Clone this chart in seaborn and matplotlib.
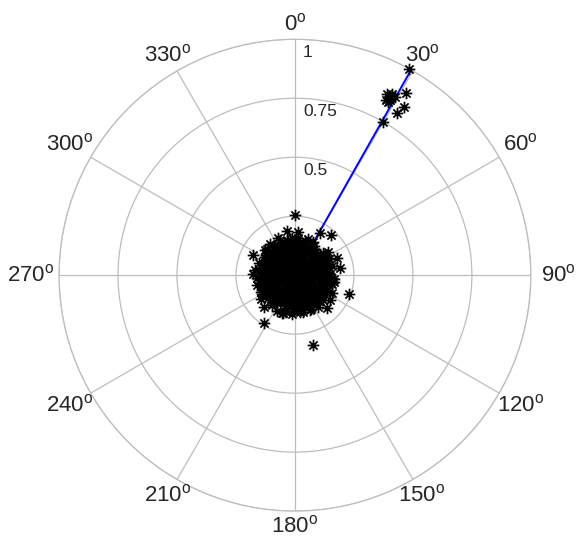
import numpy as np
import pandas as pd
import matplotlib
matplotlib.use("Agg")
import matplotlib.pyplot as plt
import seaborn as sns
from matplotlib.path import Path
from matplotlib.transforms import offset_copy

# ---------------- data (angles in degrees, radius 0..1) ----------------
core_theta = [5, 37, 71, 102, 139, 166, 198, 226, 259, 291, 318, 347, 14, 52, 88, 121, 153, 187,
              214, 243, 277, 305, 333, 22, 61, 95, 130, 171, 205, 236, 268, 299, 326, 355, 44, 79,
              112, 147, 182, 219, 251, 284, 312, 341, 9, 66, 117, 192, 248, 322]
core_r = [0.02, 0.04, 0.03, 0.05, 0.01, 0.06, 0.03, 0.05, 0.02, 0.04, 0.06, 0.03, 0.05, 0.02, 0.06,
          0.04, 0.03, 0.05, 0.02, 0.06, 0.04, 0.03, 0.05, 0.06, 0.01, 0.04, 0.05, 0.03, 0.06, 0.02,
          0.05, 0.04, 0.03, 0.06, 0.05, 0.02, 0.06, 0.04, 0.03, 0.05, 0.04, 0.06, 0.02, 0.05, 0.04,
          0.05, 0.03, 0.06, 0.04, 0.02]

mid_theta = [3, 11, 19, 28, 34, 43, 50, 58, 64, 73, 81, 86, 94, 100, 108, 115, 124, 131, 137, 145,
             152, 160, 168, 175, 181, 189, 196, 203, 211, 217, 224, 231, 239, 245, 253, 260, 266,
             274, 281, 288, 294, 301, 308, 315, 321, 329, 336, 343, 350, 357, 25, 68, 110, 158, 200,
             246, 292, 338, 16, 77, 141, 207, 263, 318, 48, 99, 172, 229, 284, 353]
mid_r = [0.08, 0.10, 0.07, 0.09, 0.11, 0.06, 0.10, 0.08, 0.07, 0.11, 0.09, 0.06, 0.10, 0.08, 0.11,
         0.07, 0.09, 0.10, 0.06, 0.08, 0.11, 0.07, 0.09, 0.10, 0.08, 0.06, 0.11, 0.09, 0.07, 0.10,
         0.08, 0.11, 0.06, 0.09, 0.10, 0.07, 0.08, 0.11, 0.09, 0.06, 0.10, 0.07, 0.08, 0.11, 0.09,
         0.10, 0.06, 0.08, 0.07, 0.11, 0.09, 0.10, 0.07, 0.08, 0.11, 0.06, 0.09, 0.10, 0.08, 0.07,
         0.11, 0.09, 0.06, 0.10, 0.08, 0.07, 0.11, 0.09, 0.10, 0.08]

outer_theta = [7, 14, 23, 31, 39, 46, 55, 62, 70, 77, 84, 92, 98, 106, 113, 120, 128, 135, 142, 149,
               157, 164, 171, 178, 186, 193, 200, 208, 215, 222, 229, 236, 243, 250, 257, 264, 271,
               278, 285, 292, 299, 306, 313, 320, 327, 334, 341, 348, 355, 0, 18, 53, 89, 126, 162,
               197, 233, 269, 304, 339, 36, 104, 176, 240, 310, 60, 150, 220, 280, 330]
outer_r = [0.12, 0.13, 0.11, 0.14, 0.12, 0.10, 0.13, 0.11, 0.14, 0.12, 0.13, 0.10, 0.11, 0.14, 0.12,
           0.13, 0.11, 0.10, 0.14, 0.12, 0.13, 0.11, 0.12, 0.14, 0.10, 0.13, 0.12, 0.11, 0.14, 0.13,
           0.12, 0.10, 0.11, 0.13, 0.14, 0.12, 0.11, 0.13, 0.10, 0.12, 0.14, 0.11, 0.13, 0.12, 0.14,
           0.10, 0.13, 0.11, 0.12, 0.14, 0.13, 0.12, 0.11, 0.14, 0.13, 0.12, 0.14, 0.13, 0.11, 0.12,
           0.13, 0.12, 0.14, 0.13, 0.12, 0.14, 0.13, 0.12, 0.11, 0.13]

rim_theta = [2, 9, 17, 26, 33, 41, 49, 57, 66, 74, 83, 91, 97, 105, 114, 122, 130, 138, 147, 154,
             163, 170, 179, 187, 195, 204, 212, 221, 228, 237, 244, 252, 261, 268, 276, 283, 290,
             297, 305, 312, 319, 326, 333, 340, 347, 354, 12, 45, 80, 117, 148, 183, 218, 254, 287,
             316, 344, 63, 135, 202]
rim_r = [0.15, 0.13, 0.14, 0.12, 0.15, 0.13, 0.14, 0.15, 0.12, 0.14, 0.13, 0.15, 0.14, 0.12, 0.15,
         0.13, 0.14, 0.15, 0.12, 0.14, 0.13, 0.15, 0.14, 0.13, 0.15, 0.12, 0.14, 0.15, 0.13, 0.14,
         0.12, 0.15, 0.13, 0.14, 0.15, 0.12, 0.14, 0.13, 0.15, 0.14, 0.12, 0.15, 0.13, 0.14, 0.15,
         0.13, 0.09, 0.10, 0.08, 0.09, 0.10, 0.08, 0.09, 0.10, 0.08, 0.09, 0.10, 0.11, 0.12, 0.11]

fill_theta = [6, 24, 40, 59, 76, 93, 111, 128, 144, 161, 179, 194, 212, 230, 247, 263, 280, 297,
              314, 331, 348, 15, 33, 50, 84, 103, 136, 169, 190, 222, 256, 289, 320, 352, 72, 143,
              209, 262, 300, 36]
fill_r = [0.07, 0.05, 0.08, 0.06, 0.09, 0.04, 0.07, 0.08, 0.05, 0.09, 0.06, 0.07, 0.08, 0.04, 0.09,
          0.06, 0.07, 0.05, 0.08, 0.09, 0.06, 0.11, 0.12, 0.10, 0.11, 0.12, 0.10, 0.11, 0.12, 0.10,
          0.11, 0.12, 0.10, 0.11, 0.12, 0.13, 0.12, 0.13, 0.12, 0.13]

ring_theta = [4, 16, 28, 52, 64, 76, 88, 103, 118, 131, 143, 157, 168, 181, 193, 206, 218, 229,
              243, 258, 266, 278, 289, 301, 313, 324, 337, 348, 356, 198]
ring_r = [0.16, 0.15, 0.16, 0.15, 0.16, 0.16, 0.15, 0.16, 0.15, 0.16, 0.15, 0.16, 0.16, 0.15, 0.16,
          0.17, 0.16, 0.15, 0.16, 0.15, 0.16, 0.17, 0.16, 0.15, 0.16, 0.15, 0.16, 0.15, 0.16, 0.17]

edge_theta = [0, 350, 4, 31, 42, 296, 272, 68, 81, 109, 116, 136, 213, 224, 199, 172, 144, 322,
              165.6, 55, 95, 125, 155, 185, 240, 255, 310, 335, 20, 100, 235]
edge_r = [0.254, 0.19, 0.185, 0.21, 0.227, 0.20, 0.18, 0.19, 0.193, 0.243, 0.174, 0.195, 0.242,
          0.19, 0.17, 0.157, 0.167, 0.17, 0.306, 0.17, 0.165, 0.18, 0.16, 0.165, 0.16, 0.165,
          0.165, 0.175, 0.165, 0.17, 0.175]

far_theta = [28.9, 29.9, 28.0, 27.6, 28.0, 31.3, 32.9, 32.2, 28.3, 27.0, 28.5, 29.2]
far_r = [1.0, 0.75, 0.856, 0.837, 0.872, 0.904, 0.85, 0.81, 0.834, 0.86, 0.845, 0.865]

mean_theta = 29.5
mean_r = 1.0

angle_ticks = [0, 30, 60, 90, 120, 150, 180, 210, 240, 270, 300, 330]
r_ticks = [0.25, 0.5, 0.75, 1.0]
r_labels = ["", "0.5", "0.75", "1"]

# ---------------- style ----------------
sns.set_style("white")
plt.rcParams["font.family"] = ["Liberation Sans", "DejaVu Sans"]
plt.rcParams["mathtext.fontset"] = "custom"
plt.rcParams["mathtext.rm"] = "Liberation Sans"
grid_color = "#bdbdbd"

fig = plt.figure(figsize=(5.78, 5.38), dpi=100)
ax = fig.add_axes([0.102, 0.050, 0.8166, 0.877], projection="polar")
ax.set_theta_zero_location("N")
ax.set_theta_direction(-1)
ax.set_ylim(0, 1)
ax.set_thetagrids(angle_ticks, labels=[""] * len(angle_ticks))
ax.set_rgrids(r_ticks, labels=[""] * len(r_ticks))
ax.grid(True, color=grid_color, linewidth=0.9)
ax.spines["polar"].set_color(grid_color)
ax.spines["polar"].set_linewidth(0.9)
ax.tick_params(length=0)

# mean vector line
ax.plot(np.deg2rad([mean_theta, mean_theta]), [0, mean_r], color="blue", lw=1.4, zorder=2)

# points
all_theta = (core_theta + mid_theta + outer_theta + rim_theta + fill_theta + ring_theta
             + edge_theta + far_theta)
all_r = core_r + mid_r + outer_r + rim_r + fill_r + ring_r + edge_r + far_r
df = pd.DataFrame({"theta": np.deg2rad(all_theta), "r": all_r})

c = 0.7071
star = Path([(0, -1), (0, 1), (-1, 0), (1, 0), (-c, -c), (c, c), (-c, c), (c, -c)],
            [Path.MOVETO, Path.LINETO] * 4)
sns.scatterplot(data=df, x="theta", y="r", marker=star, s=70, color="black",
                edgecolor="black", linewidth=1.25, ax=ax, legend=False, zorder=3,
                clip_on=False)
ax.set_xlabel("")
ax.set_ylabel("")

# radial labels
tr = offset_copy(ax.transData, fig=fig, x=8, y=-6, units="dots")
for rv, lab in zip(r_ticks, r_labels):
    if lab:
        ax.text(0, rv, lab, transform=tr, ha="left", va="top", fontsize=12.5, zorder=1.5)

# angle labels (pixel offset outside the rim)
for a in angle_ticks:
    t = np.deg2rad(a)
    d = 15 + 13 * np.sin(t) ** 2
    trl = offset_copy(ax.transData, fig=fig, x=d * np.sin(t), y=d * np.cos(t), units="dots")
    ax.text(t, 1.0, f"{a}$^{{\\mathrm{{o}}}}$", transform=trl, ha="center", va="center",
            fontsize=16, clip_on=False)

fig.savefig("out.png", dpi=100)
